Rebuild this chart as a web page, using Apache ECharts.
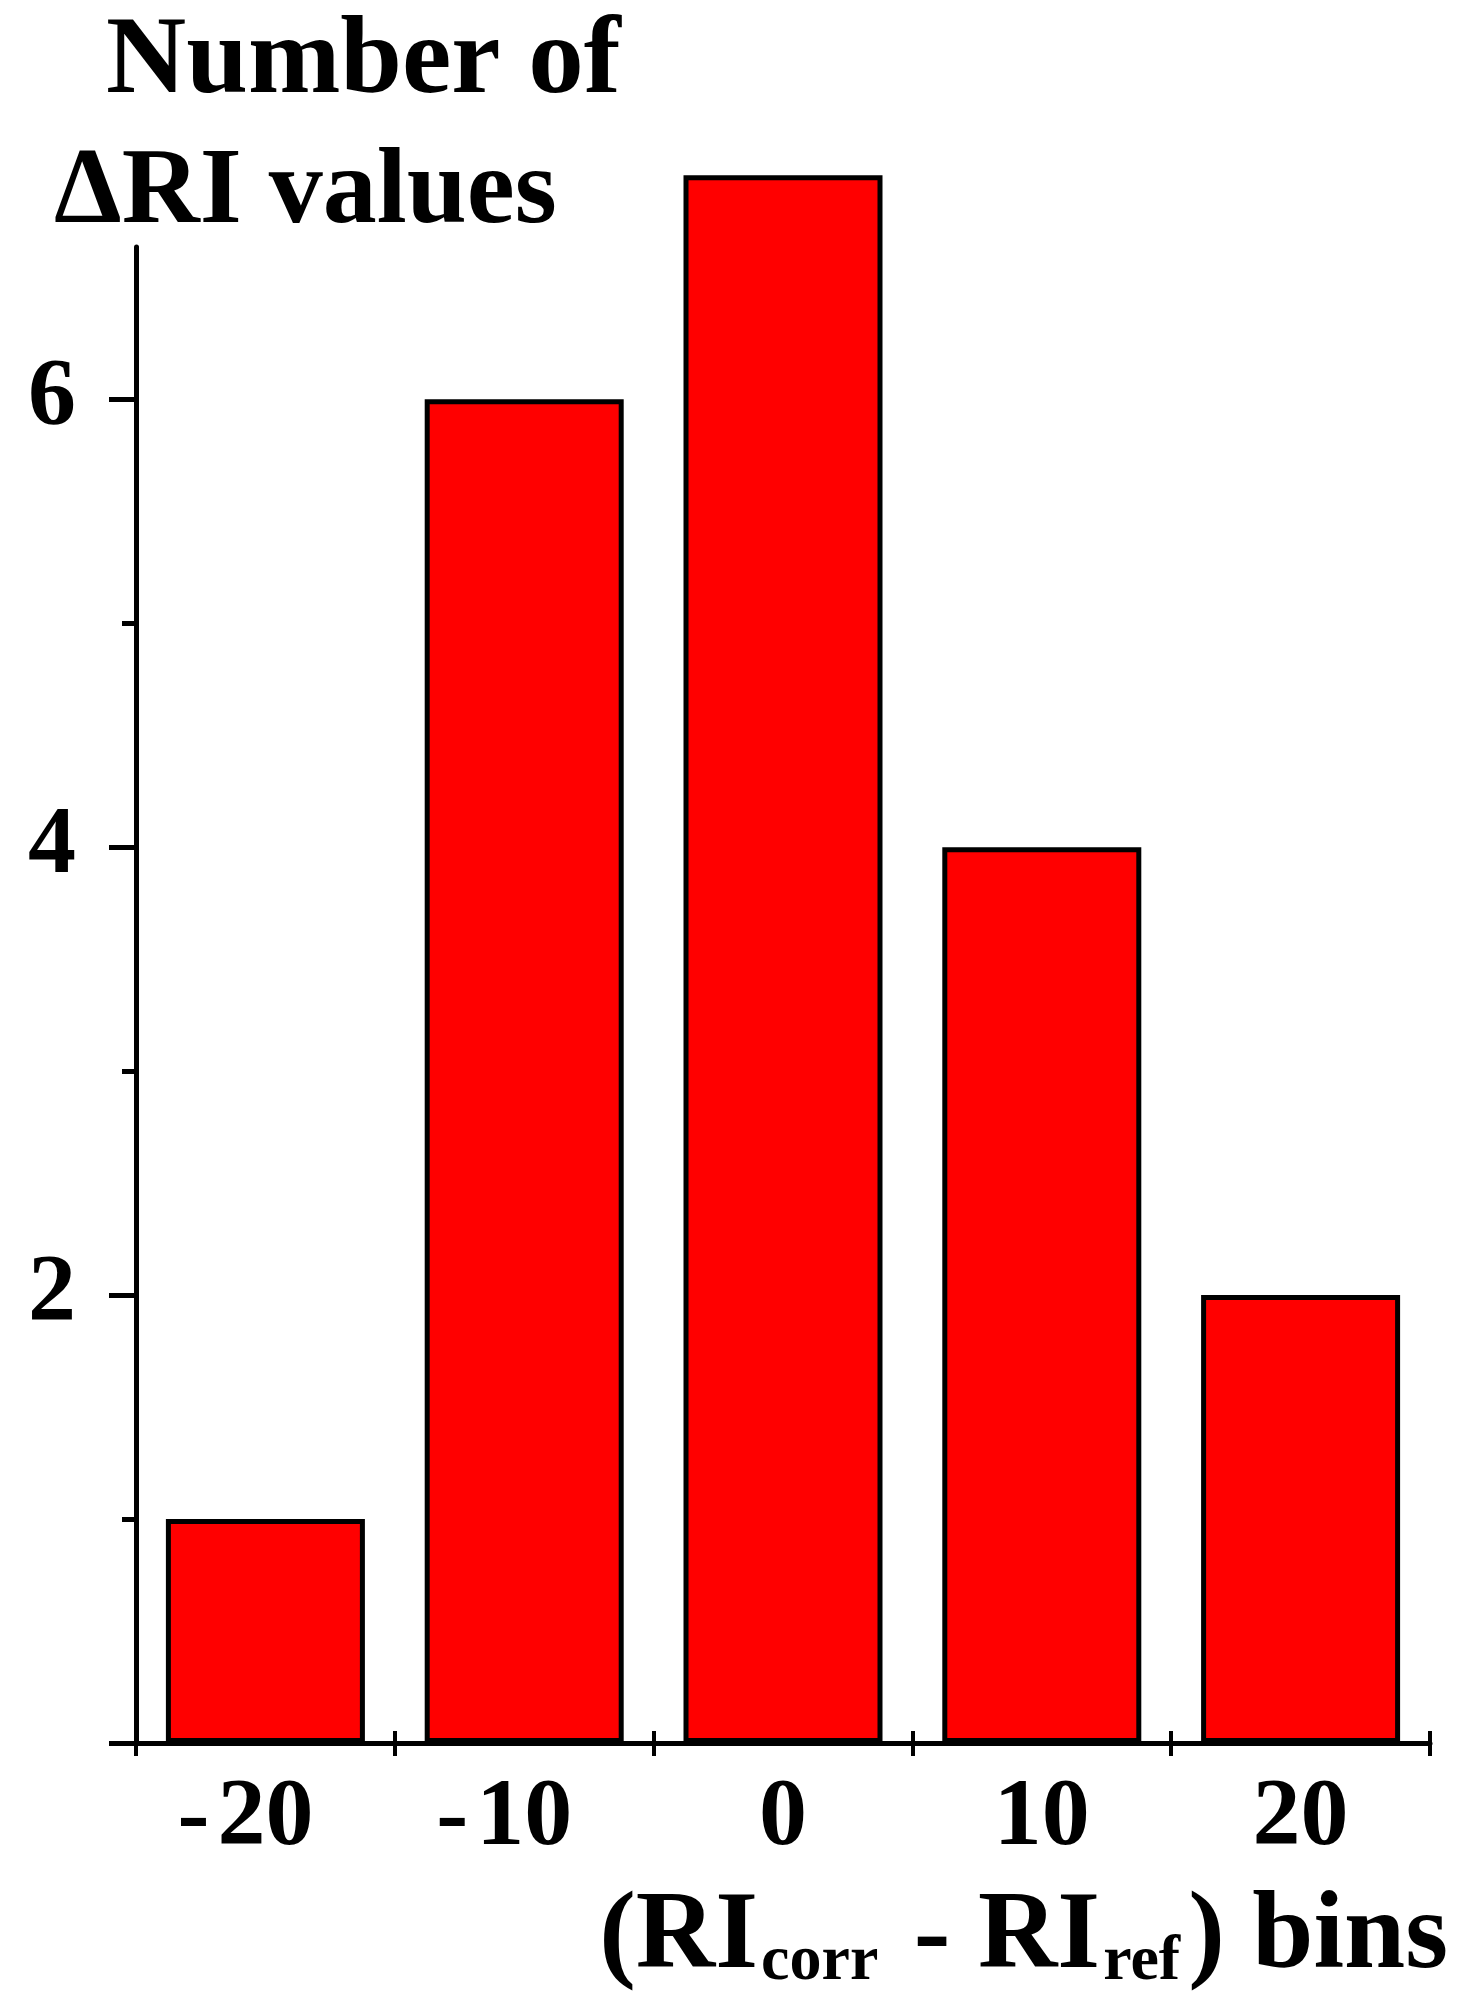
<!DOCTYPE html>
<html><head><meta charset="utf-8">
<script src="https://cdn.jsdelivr.net/npm/echarts@6/dist/echarts.min.js"></script>
<style>html,body{margin:0;padding:0;background:#fff}#c{width:1466px;height:2000px}</style>
</head><body><div id="c"></div>
<script>
const categories = ['-20', '-10', '0', '10', '20'];
const counts = [1, 6, 7, 4, 2];
const yMajorTicks = [0, 2, 4, 6];
const yLabelValues = [2, 4, 6];
const yMinorTicks = [1, 3, 5];

const FONT = '"Liberation Serif", "Times New Roman", serif';
const base = {fontFamily: FONT, fontWeight: 'bold', color: '#000'};
const chart = echarts.init(document.getElementById('c'), null, {renderer: 'canvas'});
chart.setOption({
  backgroundColor: '#fff',
  animation: false,
  title: {
    left: 54, top: 13, padding: 0,
    text: '{a|Number of}\n{b|ΔRI values}',
    textStyle: {
      rich: {
        a: Object.assign({fontSize: 111, lineHeight: 100, padding: [0, 0, 0, 52]}, base),
        b: Object.assign({fontSize: 108, lineHeight: 162}, base)
      }
    }
  },
  grid: {left: 136, right: 36, top: 247, bottom: 257, containLabel: false},
  xAxis: [{
    type: 'category', data: categories, position: 'bottom',
    axisLine: {show: true, lineStyle: {color: '#000', width: 5}},
    axisTick: {show: true, inside: false, length: 13, lineStyle: {color: '#000', width: 4}},
    axisLabel: {
      margin: 28,
      formatter: function (v) {
        return v.charAt(0) === '-' ? '{n|-}{dn|' + v.slice(1) + '}' : '{d|' + v + '}';
      },
      rich: {
        n: Object.assign({fontSize: 96, padding: [0, 8, 0, 0]}, base),
        dn: Object.assign({fontSize: 96, padding: [0, 40, 0, 0]}, base),
        d: Object.assign({fontSize: 96}, base)
      }
    },
    splitLine: {show: false},
    name: '{m|(RI}{s|corr}{m| - RI}{s|ref}{m|) bins}',
    nameLocation: 'end', nameGap: 18,
    nameTextStyle: {
      align: 'right', verticalAlign: 'top', padding: [141, 0, 0, 0],
      rich: {
        m: Object.assign({fontSize: 110, lineHeight: 110, verticalAlign: 'bottom'}, base),
        s: Object.assign({fontSize: 64, lineHeight: 60, verticalAlign: 'bottom', padding: [0, 8, 0, 3]}, base)
      }
    }
  }, {
    type: 'category', data: categories, position: 'bottom',
    axisLine: {show: false},
    axisTick: {show: true, inside: true, length: 12, lineStyle: {color: '#000', width: 4}},
    axisLabel: {show: false}, splitLine: {show: false}
  }],
  yAxis: [{
    type: 'value', min: 0, max: 6.68, position: 'left',
    axisLine: {show: true, lineStyle: {color: '#000', width: 5}},
    axisTick: {show: true, inside: false, length: 27, customValues: yMajorTicks, lineStyle: {color: '#000', width: 5}},
    axisLabel: Object.assign({fontSize: 96, margin: 60, customValues: yLabelValues}, base),
    splitLine: {show: false}
  }, {
    type: 'value', min: 0, max: 6.68, position: 'left',
    axisLine: {show: false},
    axisTick: {show: true, inside: false, length: 14, customValues: yMinorTicks, lineStyle: {color: '#000', width: 5}},
    axisLabel: {show: false}, splitLine: {show: false}
  }],
  series: [{
    type: 'bar', xAxisIndex: 0, yAxisIndex: 0, data: counts, clip: false,
    barWidth: 199,
    itemStyle: {color: '#ff0000', borderColor: '#000', borderWidth: 5}
  }]
});
</script></body></html>
